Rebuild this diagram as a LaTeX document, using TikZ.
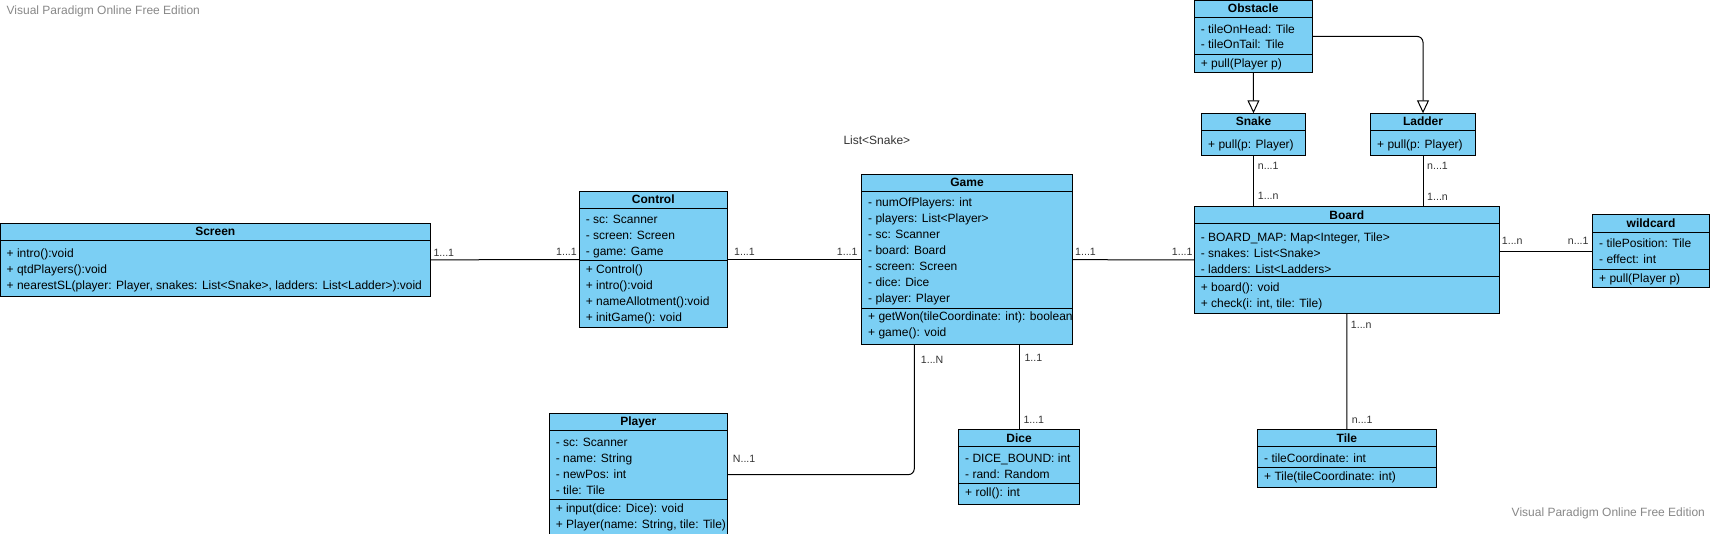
\documentclass[tikz,border=0pt]{standalone}
\usepackage{fontspec}
\setmainfont{Liberation Sans}
\usetikzlibrary{arrows.meta}
\definecolor{umlfill}{RGB}{123,207,244}
\definecolor{lblgray}{RGB}{51,51,51}
\definecolor{wmgray}{RGB}{136,136,136}
\tikzset{
 classbox/.style={draw=black, fill=umlfill, line width=1pt, inner sep=0pt, outer sep=0pt, anchor=north west},
 ctext/.style={anchor=base west, inner sep=0pt, font=\fontsize{12}{16}\selectfont},
 ctitle/.style={anchor=base, inner sep=0pt, font=\fontsize{12}{16}\selectfont\bfseries},
 mult/.style={anchor=west, inner sep=0pt, font=\fontsize{10.6}{13}\selectfont, text=lblgray},
 wmark/.style={anchor=west, inner sep=0pt, font=\fontsize{12}{14}\selectfont, text=wmgray},
 conn/.style={draw=black, line width=1pt},
 sepline/.style={draw=black, line width=1pt},
 inherit/.style={conn, -{Triangle[open, width=12pt, length=13pt, fill=white]}},
}
\newcommand\umlbox[5]{\node[classbox, minimum width={#4pt-#2pt}, minimum height={#5pt-#3pt}] (#1) at (#2,#3) {};}
\newcommand\umlsep[2]{\draw[sepline] (#1.west |- 0,#2) -- (#1.east |- 0,#2);}
\newcommand\umlline[4]{\node[ctext] (#1) at (#2,#3) {#4};}
\newcommand\umltitle[4]{\node[ctitle] (#1) at (#2,#3) {#4};}
\begin{document}
\begin{tikzpicture}[x=1pt,y=-1pt]
\useasboundingbox (0,0) rectangle (1710,534);
\fill[white] (0,0) rectangle (1710,534);

% watermarks
\node[wmark] (wm1) at (6.5,11.7) {Visual Paradigm Online Free Edition};
\node[wmark] (wm2) at (1511.5,513.3) {Visual Paradigm Online Free Edition};
\node[anchor=west, inner sep=0pt, font=\fontsize{12}{14}\selectfont, text=lblgray] (listsnake) at (843.3,140.7) {List<Snake>};

% Screen
\umlbox{screen}{0.5}{223.3}{430.7}{296.3}
\umlsep{screen}{240.3}
\umltitle{screen-t}{215.3}{235.9}{Screen}
\umlline{screen-1}{6.5}{258}{+ intro():void}
\umlline{screen-2}{6.5}{274}{+ qtdPlayers():void}
\umlline{screen-3}{6.5}{290}{+ nearestSL(player: Player, snakes: List<Snake>, ladders: List<Ladder>):void}

% Control
\umlbox{control}{579.3}{191.3}{727.3}{328}
\umlsep{control}{208.3}
\umlsep{control}{261}
\umltitle{control-t}{653.3}{203.8}{Control}
\umlline{control-1}{585.6}{223.6}{- sc: Scanner}
\umlline{control-2}{585.6}{239.6}{- screen: Screen}
\umlline{control-3}{585.6}{255.6}{- game: Game}
\umlline{control-4}{585.6}{273.8}{+ Control()}
\umlline{control-5}{585.6}{289.8}{+ intro():void}
\umlline{control-6}{585.6}{305.8}{+ nameAllotment():void}
\umlline{control-7}{585.6}{321.8}{+ initGame(): void}

% Game
\umlbox{game}{861.7}{174.3}{1072.3}{345}
\umlsep{game}{191.7}
\umlsep{game}{308.3}
\umltitle{game-t}{967}{187}{Game}
\umlline{game-1}{868}{207}{- numOfPlayers: int}
\umlline{game-2}{868}{223}{- players: List<Player>}
\umlline{game-3}{868}{239}{- sc: Scanner}
\umlline{game-4}{868}{255}{- board: Board}
\umlline{game-5}{868}{271}{- screen: Screen}
\umlline{game-6}{868}{287}{- dice: Dice}
\umlline{game-7}{868}{303}{- player: Player}
\umlline{game-8}{868}{321}{+ getWon(tileCoordinate: int): boolean}
\umlline{game-9}{868}{337}{+ game(): void}

% Obstacle
\umlbox{obstacle}{1194.3}{0.5}{1312.3}{72.3}
\umlsep{obstacle}{17.3}
\umlsep{obstacle}{54.3}
\umltitle{obstacle-t}{1253.3}{12.9}{Obstacle}
\umlline{obstacle-1}{1200.6}{33.1}{- tileOnHead: Tile}
\umlline{obstacle-2}{1200.6}{48.9}{- tileOnTail: Tile}
\umlline{obstacle-3}{1200.6}{67.3}{+ pull(Player p)}

% Snake
\umlbox{snake}{1201.7}{113.3}{1305.3}{156}
\umlsep{snake}{130.7}
\umltitle{snake-t}{1253.5}{126}{Snake}
\umlline{snake-1}{1208}{148.3}{+ pull(p: Player)}

% Ladder
\umlbox{ladder}{1370.7}{113.3}{1475.3}{156}
\umlsep{ladder}{130.7}
\umltitle{ladder-t}{1423}{126}{Ladder}
\umlline{ladder-1}{1377}{148.3}{+ pull(p: Player)}

% Board
\umlbox{board}{1194.3}{206.7}{1499.3}{313.3}
\umlsep{board}{223.7}
\umlsep{board}{276.3}
\umltitle{board-t}{1346.8}{219.2}{Board}
\umlline{board-1}{1200.6}{241.3}{- BOARD\_MAP: Map<Integer, Tile>}
\umlline{board-2}{1200.6}{257.3}{- snakes: List<Snake>}
\umlline{board-3}{1200.6}{273.3}{- ladders: List<Ladders>}
\umlline{board-4}{1200.6}{292}{+ board(): void}
\umlline{board-5}{1200.6}{308}{+ check(i: int, tile: Tile)}

% wildcard
\umlbox{wild}{1592.7}{215}{1709.5}{287.3}
\umlsep{wild}{232.3}
\umlsep{wild}{269.3}
\umltitle{wild-t}{1651}{227.6}{wildcard}
\umlline{wild-1}{1599}{247.6}{- tilePosition: Tile}
\umlline{wild-2}{1599}{263.8}{- effect: int}
\umlline{wild-3}{1599}{282.3}{+ pull(Player p)}

% Player
\umlbox{player}{549.3}{413.3}{727.3}{536}
\umlsep{player}{430.3}
\umlsep{player}{499.3}
\umltitle{player-t}{638.3}{425.8}{Player}
\umlline{player-1}{555.6}{446}{- sc: Scanner}
\umlline{player-2}{555.6}{462}{- name: String}
\umlline{player-3}{555.6}{478.2}{- newPos: int}
\umlline{player-4}{555.6}{494}{- tile: Tile}
\umlline{player-5}{555.6}{512}{+ input(dice: Dice): void}
\umlline{player-6}{555.6}{528}{+ Player(name: String, tile: Tile)}

% Dice
\umlbox{dice}{958.7}{429.3}{1079.3}{504}
\umlsep{dice}{446.7}
\umlsep{dice}{483.7}
\umltitle{dice-t}{1019}{442}{Dice}
\umlline{dice-1}{965}{462}{- DICE\_BOUND: int}
\umlline{dice-2}{965}{478}{- rand: Random}
\umlline{dice-3}{965}{496}{+ roll(): int}

% Tile
\umlbox{tile}{1257.7}{429.3}{1436}{487.7}
\umlsep{tile}{446.7}
\umlsep{tile}{467.3}
\umltitle{tile-t}{1346.85}{442}{Tile}
\umlline{tile-1}{1264}{462}{- tileCoordinate: int}
\umlline{tile-2}{1264}{480.3}{+ Tile(tileCoordinate: int)}

% connectors
\draw[conn] (screen.east) -- (control.west);
\draw[conn] (control.east) -- (game.west);
\draw[conn] (game.east) -- (board.west);
\draw[inherit] (obstacle.south) -- (snake.north);
\draw[inherit, rounded corners=6pt] (obstacle.east) -| (ladder.north);
\draw[conn] (snake.south) -- (snake.south |- board.north);
\draw[conn] (ladder.south) -- (ladder.south |- board.north);
\draw[conn] (board.east |- wild.west) -- (wild.west);
\draw[conn] (board.south) -- (tile.north);
\draw[conn] (dice.north |- game.south) -- (dice.north);
\coordinate (gpstart) at (914.3,345);
\draw[conn, rounded corners=6pt] (gpstart) |- (player.east);

% multiplicities
\node[mult] (m1) at (433.3,252.5) {1...1};
\node[mult] (m2) at (556,252) {1...1};
\node[mult] (m3) at (734,251.5) {1...1};
\node[mult] (m4) at (836.7,251.5) {1...1};
\node[mult] (m5) at (1075,252) {1...1};
\node[mult] (m6) at (1171.7,252) {1...1};
\node[mult] (m7) at (1257.7,166) {n...1};
\node[mult] (m8) at (1257.7,196) {1...n};
\node[mult] (m9) at (1427,166) {n...1};
\node[mult] (m10) at (1427,197) {1...n};
\node[mult] (m11) at (1501.7,240.7) {1...n};
\node[mult] (m12) at (1567.7,240.7) {n...1};
\node[mult] (m13) at (1350.7,325) {1...n};
\node[mult] (m14) at (1351.7,420) {n...1};
\node[mult] (m15) at (1024.3,357.7) {1..1};
\node[mult] (m16) at (1023.3,420) {1...1};
\node[mult] (m17) at (920.7,360) {1...N};
\node[mult] (m18) at (732.7,459) {N...1};
\end{tikzpicture}
\end{document}
